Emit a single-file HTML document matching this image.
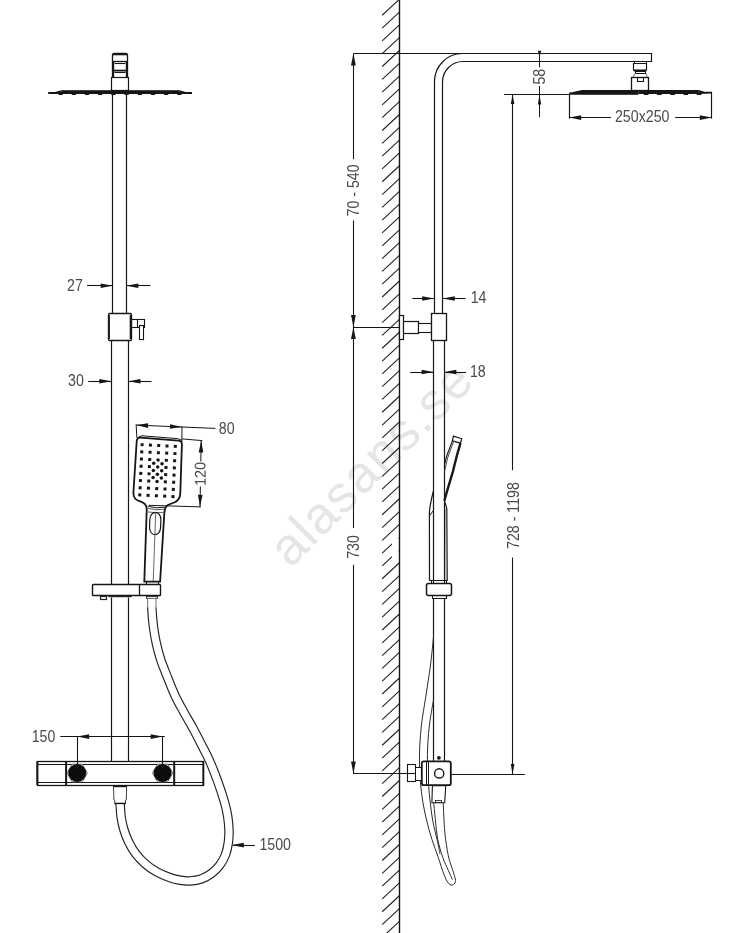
<!DOCTYPE html>
<html lang="sv">
<head>
<meta charset="utf-8">
<title>alasans.se – måttskiss takduschset</title>
<style>
html,body{margin:0;padding:0;background:#fff;}
body{width:746px;height:933px;overflow:hidden;}
svg{display:block;will-change:transform;}
svg text{font-family:"Liberation Sans",sans-serif;}
</style>
</head>
<body>
<svg width="746" height="933" viewBox="0 0 746 933">
<rect x="0" y="0" width="746" height="933" fill="#fff"/>
<g id="watermark">
<text transform="translate(290.5 569) rotate(-45)" font-size="52" fill="#e5e5e5" textLength="262" lengthAdjust="spacing">alasans.se</text>
</g>
<g id="front-view">
<path d="M112.5 77.2V55.3Q112.5 53.4 114.4 53.4H125.6Q127.5 53.4 127.5 55.3V77.2" fill="none" stroke="#161616" stroke-width="1.3"/>
<line x1="112.5" y1="54.5" x2="127.5" y2="54.5" stroke="#161616" stroke-width="1.6"/>
<line x1="112.5" y1="61.5" x2="127.5" y2="61.5" stroke="#161616" stroke-width="1.3"/>
<line x1="114.5" y1="63.5" x2="125.5" y2="63.5" stroke="#161616" stroke-width="1.1"/>
<line x1="112.5" y1="70.6" x2="127.5" y2="70.6" stroke="#161616" stroke-width="1.8"/>
<line x1="114.5" y1="72.5" x2="125.5" y2="72.5" stroke="#161616" stroke-width="1.1"/>
<line x1="113.5" y1="62" x2="113.5" y2="77" stroke="#161616" stroke-width="1.4"/>
<line x1="126.5" y1="62" x2="126.5" y2="77" stroke="#161616" stroke-width="1.4"/>
<rect x="111.5" y="77.5" width="17" height="13" fill="none" stroke="#161616" stroke-width="1.2"/>
<rect x="61.5" y="90.2" width="118" height="3.4" fill="#161616" stroke="none" stroke-width="0"/>
<line x1="48.2" y1="92.9" x2="192" y2="92.9" stroke="#161616" stroke-width="2"/>
<polygon points="61.5,90.2 54,92.2 54,93.6 61.5,93.6" fill="#161616"/>
<polygon points="179.5,90.2 186.5,92.2 186.5,93.6 179.5,93.6" fill="#161616"/>
<rect x="58.5" y="93.2" width="4.2" height="1.8" fill="#161616" stroke="none" stroke-width="0"/>
<rect x="71.7" y="93.2" width="4.2" height="1.8" fill="#161616" stroke="none" stroke-width="0"/>
<rect x="84.9" y="93.2" width="4.2" height="1.8" fill="#161616" stroke="none" stroke-width="0"/>
<rect x="98.1" y="93.2" width="4.2" height="1.8" fill="#161616" stroke="none" stroke-width="0"/>
<rect x="111.3" y="93.2" width="4.2" height="1.8" fill="#161616" stroke="none" stroke-width="0"/>
<rect x="124.5" y="93.2" width="4.2" height="1.8" fill="#161616" stroke="none" stroke-width="0"/>
<rect x="137.7" y="93.2" width="4.2" height="1.8" fill="#161616" stroke="none" stroke-width="0"/>
<rect x="150.9" y="93.2" width="4.2" height="1.8" fill="#161616" stroke="none" stroke-width="0"/>
<rect x="164.1" y="93.2" width="4.2" height="1.8" fill="#161616" stroke="none" stroke-width="0"/>
<rect x="177.3" y="93.2" width="4.2" height="1.8" fill="#161616" stroke="none" stroke-width="0"/>
<line x1="112.5" y1="94" x2="112.5" y2="313.7" stroke="#161616" stroke-width="1.2"/>
<line x1="126.5" y1="94" x2="126.5" y2="313.7" stroke="#161616" stroke-width="1.2"/>
<rect x="108.5" y="313.5" width="23" height="27" fill="#fff" stroke="#161616" stroke-width="1.3" rx="1.2"/>
<line x1="109" y1="315" x2="109" y2="339" stroke="#161616" stroke-width="1.8"/>
<line x1="130.5" y1="315" x2="130.5" y2="339" stroke="#161616" stroke-width="1.6"/>
<rect x="131.5" y="319.5" width="13" height="8" fill="none" stroke="#161616" stroke-width="1.1"/>
<line x1="137.5" y1="319.8" x2="137.5" y2="327" stroke="#161616" stroke-width="1.1"/>
<rect x="139.5" y="325.5" width="4" height="14" fill="#fff" stroke="#161616" stroke-width="1.1"/>
<line x1="111.5" y1="340" x2="111.5" y2="584" stroke="#161616" stroke-width="1.2"/>
<line x1="128.5" y1="340" x2="128.5" y2="584" stroke="#161616" stroke-width="1.2"/>
<line x1="111.5" y1="597.5" x2="111.5" y2="761.5" stroke="#161616" stroke-width="1.2"/>
<line x1="128.5" y1="597.5" x2="128.5" y2="761.5" stroke="#161616" stroke-width="1.2"/>
<line x1="87.2" y1="285.5" x2="112.7" y2="285.5" stroke="#161616" stroke-width="1.1"/>
<polygon points="112.7,285.7 100.7,283.4 100.7,288" fill="#161616"/>
<line x1="126.4" y1="285.5" x2="150.5" y2="285.5" stroke="#161616" stroke-width="1.1"/>
<polygon points="126.4,285.7 138.4,288 138.4,283.4" fill="#161616"/>
<text transform="translate(75 290.8) scale(0.91 1)" font-size="15.6" text-anchor="middle" fill="#4a4a4a">27</text>
<line x1="88.2" y1="381.5" x2="111.3" y2="381.5" stroke="#161616" stroke-width="1.1"/>
<polygon points="111.3,381.3 99.3,379 99.3,383.6" fill="#161616"/>
<line x1="128.5" y1="381.5" x2="151.5" y2="381.5" stroke="#161616" stroke-width="1.1"/>
<polygon points="128.5,381.3 140.5,383.6 140.5,379" fill="#161616"/>
<text transform="translate(76 386.4) scale(0.91 1)" font-size="15.6" text-anchor="middle" fill="#4a4a4a">30</text>
<path d="M140.6 437.7L178.4 440.7Q182 441 181.9 444.6L180.3 493C180.2 498.5 178.5 500.8 174.3 502.5C169 504.5 165.6 505 165 509.5L164.4 512L160.1 581.7H144.3L146.7 510.5C147 504.5 144.5 503 140.1 501.4C135.5 499.8 133.5 498 133.4 493L136.7 441.3Q137 437.4 140.6 437.7Z" fill="#fff" stroke="#161616" stroke-width="1.8"/>
<path d="M137.3 439.2Q138.5 435.6 142 435.8L177.5 438.6Q181.5 439 182 442.2" fill="none" stroke="#161616" stroke-width="1"/>
<path d="M147.5 506.2Q156 508.8 165 507.2" fill="none" stroke="#161616" stroke-width="1"/>
<path d="M147.2 508.2Q155.5 510.6 164.4 509.2" fill="none" stroke="#444" stroke-width="0.9"/>
<path d="M147.4 511.9Q155.5 513.2 163.8 512.4" fill="none" stroke="#555" stroke-width="0.9"/>
<rect x="140.6" y="443.2" width="3" height="3" fill="#161616" transform="rotate(2.9 142.1 444.7)"/>
<rect x="148.9" y="443.62" width="3" height="3" fill="#161616" transform="rotate(2.9 150.4 445.12)"/>
<rect x="157.2" y="444.04" width="3" height="3" fill="#161616" transform="rotate(2.9 158.7 445.54)"/>
<rect x="165.5" y="444.46" width="3" height="3" fill="#161616" transform="rotate(2.9 167 445.96)"/>
<rect x="173.8" y="444.88" width="3" height="3" fill="#161616" transform="rotate(2.9 175.3 446.38)"/>
<rect x="140.27" y="450.37" width="3" height="3" fill="#161616" transform="rotate(2.9 141.77 451.87)"/>
<rect x="148.57" y="450.79" width="3" height="3" fill="#161616" transform="rotate(2.9 150.07 452.29)"/>
<rect x="156.87" y="451.21" width="3" height="3" fill="#161616" transform="rotate(2.9 158.37 452.71)"/>
<rect x="165.17" y="451.63" width="3" height="3" fill="#161616" transform="rotate(2.9 166.67 453.13)"/>
<rect x="173.47" y="452.05" width="3" height="3" fill="#161616" transform="rotate(2.9 174.97 453.55)"/>
<rect x="139.94" y="457.54" width="3" height="3" fill="#161616" transform="rotate(2.9 141.44 459.04)"/>
<rect x="148.24" y="457.96" width="3" height="3" fill="#161616" transform="rotate(2.9 149.74 459.46)"/>
<rect x="164.84" y="458.8" width="3" height="3" fill="#161616" transform="rotate(2.9 166.34 460.3)"/>
<rect x="173.14" y="459.22" width="3" height="3" fill="#161616" transform="rotate(2.9 174.64 460.72)"/>
<rect x="139.61" y="464.71" width="3" height="3" fill="#161616" transform="rotate(2.9 141.11 466.21)"/>
<rect x="147.91" y="465.13" width="3" height="3" fill="#161616" transform="rotate(2.9 149.41 466.63)"/>
<rect x="164.51" y="465.97" width="3" height="3" fill="#161616" transform="rotate(2.9 166.01 467.47)"/>
<rect x="172.81" y="466.39" width="3" height="3" fill="#161616" transform="rotate(2.9 174.31 467.89)"/>
<rect x="139.28" y="471.88" width="3" height="3" fill="#161616" transform="rotate(2.9 140.78 473.38)"/>
<rect x="147.58" y="472.3" width="3" height="3" fill="#161616" transform="rotate(2.9 149.08 473.8)"/>
<rect x="164.18" y="473.14" width="3" height="3" fill="#161616" transform="rotate(2.9 165.68 474.64)"/>
<rect x="172.48" y="473.56" width="3" height="3" fill="#161616" transform="rotate(2.9 173.98 475.06)"/>
<rect x="138.95" y="479.05" width="3" height="3" fill="#161616" transform="rotate(2.9 140.45 480.55)"/>
<rect x="147.25" y="479.47" width="3" height="3" fill="#161616" transform="rotate(2.9 148.75 480.97)"/>
<rect x="163.85" y="480.31" width="3" height="3" fill="#161616" transform="rotate(2.9 165.35 481.81)"/>
<rect x="172.15" y="480.73" width="3" height="3" fill="#161616" transform="rotate(2.9 173.65 482.23)"/>
<rect x="138.62" y="486.22" width="3" height="3" fill="#161616" transform="rotate(2.9 140.12 487.72)"/>
<rect x="146.92" y="486.64" width="3" height="3" fill="#161616" transform="rotate(2.9 148.42 488.14)"/>
<rect x="155.22" y="487.06" width="3" height="3" fill="#161616" transform="rotate(2.9 156.72 488.56)"/>
<rect x="163.52" y="487.48" width="3" height="3" fill="#161616" transform="rotate(2.9 165.02 488.98)"/>
<rect x="171.82" y="487.9" width="3" height="3" fill="#161616" transform="rotate(2.9 173.32 489.4)"/>
<rect x="138.29" y="493.39" width="3" height="3" fill="#161616" transform="rotate(2.9 139.79 494.89)"/>
<rect x="146.59" y="493.81" width="3" height="3" fill="#161616" transform="rotate(2.9 148.09 495.31)"/>
<rect x="154.89" y="494.23" width="3" height="3" fill="#161616" transform="rotate(2.9 156.39 495.73)"/>
<rect x="163.19" y="494.65" width="3" height="3" fill="#161616" transform="rotate(2.9 164.69 496.15)"/>
<rect x="171.49" y="495.07" width="3" height="3" fill="#161616" transform="rotate(2.9 172.99 496.57)"/>
<circle cx="158.04" cy="459.88" r="1.75" fill="#161616"/>
<circle cx="153.72" cy="463.25" r="1.75" fill="#161616"/>
<circle cx="162.03" cy="463.68" r="1.75" fill="#161616"/>
<circle cx="157.71" cy="467.05" r="1.75" fill="#161616"/>
<circle cx="153.39" cy="470.42" r="1.75" fill="#161616"/>
<circle cx="161.69" cy="470.85" r="1.75" fill="#161616"/>
<circle cx="157.38" cy="474.22" r="1.75" fill="#161616"/>
<circle cx="153.06" cy="477.59" r="1.75" fill="#161616"/>
<circle cx="161.36" cy="478.01" r="1.75" fill="#161616"/>
<circle cx="157.05" cy="481.39" r="1.75" fill="#161616"/>
<rect x="149.7" y="512.4" width="11" height="22.3" rx="5.5" ry="7" fill="none" stroke="#161616" stroke-width="1.2" transform="rotate(2 155.4 523.6)"/>
<line x1="155.7" y1="512.6" x2="153.2" y2="581.7" stroke="#555" stroke-width="0.9"/>
<rect x="146.5" y="581.5" width="12" height="3" fill="none" stroke="#161616" stroke-width="1"/>
<rect x="92.5" y="584.5" width="68" height="11" fill="#fff" stroke="#161616" stroke-width="1.4" rx="0.8"/>
<line x1="139.5" y1="584" x2="139.5" y2="595.6" stroke="#161616" stroke-width="1.3"/>
<rect x="100.5" y="596.5" width="6" height="3" fill="none" stroke="#222" stroke-width="1.2"/>
<line x1="108.4" y1="596.5" x2="131.7" y2="596.5" stroke="#222" stroke-width="1.4"/>
<rect x="146.5" y="596.5" width="11" height="2" fill="none" stroke="#333" stroke-width="1.1"/>
<line x1="136.1" y1="424.4" x2="136.9" y2="438" stroke="#161616" stroke-width="1"/>
<line x1="182" y1="426.5" x2="181.8" y2="442" stroke="#161616" stroke-width="1"/>
<line x1="136.1" y1="425.1" x2="215.4" y2="428.4" stroke="#161616" stroke-width="1"/>
<polygon points="136.1,425.1 147.99,427.9 148.19,423.3" fill="#161616"/>
<polygon points="182,427 170.11,424.2 169.91,428.8" fill="#161616"/>
<text transform="translate(226.7 433.9) scale(0.91 1)" font-size="15.6" text-anchor="middle" fill="#4a4a4a">80</text>
<line x1="181.8" y1="438.9" x2="202.2" y2="440.6" stroke="#161616" stroke-width="1"/>
<line x1="148.8" y1="505.3" x2="200.8" y2="506.9" stroke="#161616" stroke-width="1"/>
<line x1="201.2" y1="440.4" x2="200" y2="507" stroke="#161616" stroke-width="1"/>
<polygon points="201.2,440.5 198.68,452.46 203.28,452.54" fill="#161616"/>
<polygon points="200,506.9 202.52,494.94 197.92,494.86" fill="#161616"/>
<rect x="194.5" y="461.5" width="12.5" height="25" fill="#fff"/>
<text transform="translate(205.6 473.8) rotate(-91) scale(0.91 1)" font-size="15.6" text-anchor="middle" fill="#4a4a4a">120</text>
<path d="M151.7 598.8C151.75 600.85 151.7 606.37 152 611.1C152.3 615.83 152.78 621.83 153.5 627.2C154.22 632.57 155.12 637.95 156.3 643.3C157.48 648.65 158.86 653.95 160.6 659.3C162.34 664.65 164.35 669.38 166.75 675.4C169.15 681.42 172.15 689.27 175 695.4C177.85 701.53 180.86 706.72 183.85 712.2C186.84 717.68 190.04 722.95 192.95 728.3C195.86 733.65 198.57 738.95 201.3 744.3C204.03 749.65 206.72 754.5 209.35 760.4C211.98 766.3 214.57 772.73 217.1 779.7C219.63 786.67 222.79 796.13 224.55 802.2C226.31 808.27 226.91 811.4 227.65 816.1C228.39 820.8 228.88 826 229 830.4C229.12 834.8 228.94 838.42 228.35 842.5C227.76 846.58 226.88 851.09 225.45 854.85C224.02 858.61 222.12 861.97 219.8 865.05C217.48 868.13 214.58 871.03 211.5 873.35C208.42 875.67 204.88 877.68 201.3 878.95C197.73 880.22 193.52 880.73 190.05 880.95C186.58 881.18 183.89 880.86 180.5 880.3C177.11 879.74 173.66 878.99 169.7 877.6C165.74 876.21 160.83 874.25 156.75 871.95C152.67 869.65 148.72 866.84 145.2 863.8C141.68 860.76 138.41 857.36 135.65 853.7C132.89 850.04 130.62 845.88 128.65 841.85C126.68 837.82 125.1 833.62 123.85 829.5C122.6 825.38 121.78 821.43 121.15 817.1C120.53 812.77 120.27 805.77 120.1 803.5" fill="none" stroke="#222" stroke-width="9.5"/>
<path d="M151.7 598.8C151.75 600.85 151.7 606.37 152 611.1C152.3 615.83 152.78 621.83 153.5 627.2C154.22 632.57 155.12 637.95 156.3 643.3C157.48 648.65 158.86 653.95 160.6 659.3C162.34 664.65 164.35 669.38 166.75 675.4C169.15 681.42 172.15 689.27 175 695.4C177.85 701.53 180.86 706.72 183.85 712.2C186.84 717.68 190.04 722.95 192.95 728.3C195.86 733.65 198.57 738.95 201.3 744.3C204.03 749.65 206.72 754.5 209.35 760.4C211.98 766.3 214.57 772.73 217.1 779.7C219.63 786.67 222.79 796.13 224.55 802.2C226.31 808.27 226.91 811.4 227.65 816.1C228.39 820.8 228.88 826 229 830.4C229.12 834.8 228.94 838.42 228.35 842.5C227.76 846.58 226.88 851.09 225.45 854.85C224.02 858.61 222.12 861.97 219.8 865.05C217.48 868.13 214.58 871.03 211.5 873.35C208.42 875.67 204.88 877.68 201.3 878.95C197.73 880.22 193.52 880.73 190.05 880.95C186.58 881.18 183.89 880.86 180.5 880.3C177.11 879.74 173.66 878.99 169.7 877.6C165.74 876.21 160.83 874.25 156.75 871.95C152.67 869.65 148.72 866.84 145.2 863.8C141.68 860.76 138.41 857.36 135.65 853.7C132.89 850.04 130.62 845.88 128.65 841.85C126.68 837.82 125.1 833.62 123.85 829.5C122.6 825.38 121.78 821.43 121.15 817.1C120.53 812.77 120.27 805.77 120.1 803.5" fill="none" stroke="#fff" stroke-width="7.2"/>
<rect x="146" y="598.5" width="12" height="9" fill="#fff" opacity="0.45"/>
<path d="M113.5 786.3H126.6L126.3 800H125.5V803.3H114.7V800H113.9Z" fill="#fff" stroke="#444" stroke-width="1"/>
<line x1="113.2" y1="786.3" x2="126.9" y2="786.3" stroke="#161616" stroke-width="1.8"/>
<line x1="114.4" y1="803.5" x2="125.8" y2="803.5" stroke="#161616" stroke-width="1.3"/>
<rect x="37.5" y="761.5" width="166" height="24" fill="#fff" stroke="#161616" stroke-width="1.3"/>
<line x1="37" y1="764.5" x2="203.6" y2="764.5" stroke="#161616" stroke-width="1"/>
<line x1="37" y1="782.5" x2="203.6" y2="782.5" stroke="#161616" stroke-width="1"/>
<line x1="37.3" y1="761.5" x2="37.3" y2="785" stroke="#161616" stroke-width="2"/>
<line x1="203.3" y1="761.5" x2="203.3" y2="785" stroke="#161616" stroke-width="1.8"/>
<line x1="66.1" y1="761.5" x2="66.1" y2="785" stroke="#161616" stroke-width="2"/>
<line x1="174.2" y1="761.5" x2="174.2" y2="785" stroke="#161616" stroke-width="2"/>
<polygon points="87.4,773 82.3,781.83 72.1,781.83 67,773 72.1,764.17 82.3,764.17" fill="#fff" stroke="#666" stroke-width="0.9"/>
<circle cx="77.2" cy="773" r="9" fill="#0c0c0c"/>
<polygon points="172.8,773 167.7,781.83 157.5,781.83 152.4,773 157.5,764.17 167.7,764.17" fill="#fff" stroke="#666" stroke-width="0.9"/>
<circle cx="162.6" cy="773" r="9" fill="#0c0c0c"/>
<line x1="60.2" y1="736.5" x2="164.8" y2="736.5" stroke="#161616" stroke-width="1.1"/>
<line x1="77.5" y1="736.6" x2="77.5" y2="764" stroke="#161616" stroke-width="1.1"/>
<line x1="162.5" y1="736.6" x2="162.5" y2="764" stroke="#161616" stroke-width="1.1"/>
<polygon points="77.2,736.6 89.2,738.9 89.2,734.3" fill="#161616"/>
<polygon points="162.7,736.6 150.7,734.3 150.7,738.9" fill="#161616"/>
<text transform="translate(43.5 741.9) scale(0.91 1)" font-size="15.6" text-anchor="middle" fill="#4a4a4a">150</text>
<line x1="233" y1="845.5" x2="254.8" y2="845.5" stroke="#161616" stroke-width="1.1"/>
<polygon points="231.8,845.1 243.8,847.4 243.8,842.8" fill="#161616"/>
<text transform="translate(275.2 850) scale(0.91 1)" font-size="15.6" text-anchor="middle" fill="#4a4a4a">1500</text>
</g>
<g id="side-view">
<line x1="382.2" y1="15.25" x2="399.4" y2="-0.75" stroke="#222" stroke-width="1.1"/>
<line x1="382.2" y1="28.06" x2="399.4" y2="12.06" stroke="#222" stroke-width="1.1"/>
<line x1="382.2" y1="40.87" x2="399.4" y2="24.87" stroke="#222" stroke-width="1.1"/>
<line x1="382.2" y1="53.67" x2="399.4" y2="37.67" stroke="#222" stroke-width="1.1"/>
<line x1="382.2" y1="66.48" x2="399.4" y2="50.48" stroke="#222" stroke-width="1.1"/>
<line x1="382.2" y1="79.29" x2="399.4" y2="63.29" stroke="#222" stroke-width="1.1"/>
<line x1="382.2" y1="92.09" x2="399.4" y2="76.09" stroke="#222" stroke-width="1.1"/>
<line x1="382.2" y1="104.9" x2="399.4" y2="88.9" stroke="#222" stroke-width="1.1"/>
<line x1="382.2" y1="117.71" x2="399.4" y2="101.71" stroke="#222" stroke-width="1.1"/>
<line x1="382.2" y1="130.52" x2="399.4" y2="114.52" stroke="#222" stroke-width="1.1"/>
<line x1="382.2" y1="143.32" x2="399.4" y2="127.32" stroke="#222" stroke-width="1.1"/>
<line x1="382.2" y1="156.13" x2="399.4" y2="140.13" stroke="#222" stroke-width="1.1"/>
<line x1="382.2" y1="168.94" x2="399.4" y2="152.94" stroke="#222" stroke-width="1.1"/>
<line x1="382.2" y1="181.74" x2="399.4" y2="165.74" stroke="#222" stroke-width="1.1"/>
<line x1="382.2" y1="194.55" x2="399.4" y2="178.55" stroke="#222" stroke-width="1.1"/>
<line x1="382.2" y1="207.36" x2="399.4" y2="191.36" stroke="#222" stroke-width="1.1"/>
<line x1="382.2" y1="220.17" x2="399.4" y2="204.17" stroke="#222" stroke-width="1.1"/>
<line x1="382.2" y1="232.97" x2="399.4" y2="216.97" stroke="#222" stroke-width="1.1"/>
<line x1="382.2" y1="245.78" x2="399.4" y2="229.78" stroke="#222" stroke-width="1.1"/>
<line x1="382.2" y1="258.59" x2="399.4" y2="242.59" stroke="#222" stroke-width="1.1"/>
<line x1="382.2" y1="271.39" x2="399.4" y2="255.39" stroke="#222" stroke-width="1.1"/>
<line x1="382.2" y1="284.2" x2="399.4" y2="268.2" stroke="#222" stroke-width="1.1"/>
<line x1="382.2" y1="297.01" x2="399.4" y2="281.01" stroke="#222" stroke-width="1.1"/>
<line x1="382.2" y1="309.81" x2="399.4" y2="293.81" stroke="#222" stroke-width="1.1"/>
<line x1="382.2" y1="322.62" x2="399.4" y2="306.62" stroke="#222" stroke-width="1.1"/>
<line x1="382.2" y1="335.43" x2="399.4" y2="319.43" stroke="#222" stroke-width="1.1"/>
<line x1="382.2" y1="348.24" x2="399.4" y2="332.24" stroke="#222" stroke-width="1.1"/>
<line x1="382.2" y1="361.04" x2="399.4" y2="345.04" stroke="#222" stroke-width="1.1"/>
<line x1="382.2" y1="373.85" x2="399.4" y2="357.85" stroke="#222" stroke-width="1.1"/>
<line x1="382.2" y1="386.66" x2="399.4" y2="370.66" stroke="#222" stroke-width="1.1"/>
<line x1="382.2" y1="399.46" x2="399.4" y2="383.46" stroke="#222" stroke-width="1.1"/>
<line x1="382.2" y1="412.27" x2="399.4" y2="396.27" stroke="#222" stroke-width="1.1"/>
<line x1="382.2" y1="425.08" x2="399.4" y2="409.08" stroke="#222" stroke-width="1.1"/>
<line x1="382.2" y1="437.88" x2="399.4" y2="421.88" stroke="#222" stroke-width="1.1"/>
<line x1="382.2" y1="450.69" x2="399.4" y2="434.69" stroke="#222" stroke-width="1.1"/>
<line x1="382.2" y1="463.5" x2="399.4" y2="447.5" stroke="#222" stroke-width="1.1"/>
<line x1="382.2" y1="476.31" x2="399.4" y2="460.31" stroke="#222" stroke-width="1.1"/>
<line x1="382.2" y1="489.11" x2="399.4" y2="473.11" stroke="#222" stroke-width="1.1"/>
<line x1="382.2" y1="501.92" x2="399.4" y2="485.92" stroke="#222" stroke-width="1.1"/>
<line x1="382.2" y1="514.73" x2="399.4" y2="498.73" stroke="#222" stroke-width="1.1"/>
<line x1="382.2" y1="527.53" x2="399.4" y2="511.53" stroke="#222" stroke-width="1.1"/>
<line x1="382.2" y1="540.34" x2="399.4" y2="524.34" stroke="#222" stroke-width="1.1"/>
<line x1="382.2" y1="553.15" x2="399.4" y2="537.15" stroke="#222" stroke-width="1.1"/>
<line x1="382.2" y1="565.95" x2="399.4" y2="549.95" stroke="#222" stroke-width="1.1"/>
<line x1="382.2" y1="578.76" x2="399.4" y2="562.76" stroke="#222" stroke-width="1.1"/>
<line x1="382.2" y1="591.57" x2="399.4" y2="575.57" stroke="#222" stroke-width="1.1"/>
<line x1="382.2" y1="604.38" x2="399.4" y2="588.38" stroke="#222" stroke-width="1.1"/>
<line x1="382.2" y1="617.18" x2="399.4" y2="601.18" stroke="#222" stroke-width="1.1"/>
<line x1="382.2" y1="629.99" x2="399.4" y2="613.99" stroke="#222" stroke-width="1.1"/>
<line x1="382.2" y1="642.8" x2="399.4" y2="626.8" stroke="#222" stroke-width="1.1"/>
<line x1="382.2" y1="655.6" x2="399.4" y2="639.6" stroke="#222" stroke-width="1.1"/>
<line x1="382.2" y1="668.41" x2="399.4" y2="652.41" stroke="#222" stroke-width="1.1"/>
<line x1="382.2" y1="681.22" x2="399.4" y2="665.22" stroke="#222" stroke-width="1.1"/>
<line x1="382.2" y1="694.02" x2="399.4" y2="678.02" stroke="#222" stroke-width="1.1"/>
<line x1="382.2" y1="706.83" x2="399.4" y2="690.83" stroke="#222" stroke-width="1.1"/>
<line x1="382.2" y1="719.64" x2="399.4" y2="703.64" stroke="#222" stroke-width="1.1"/>
<line x1="382.2" y1="732.44" x2="399.4" y2="716.44" stroke="#222" stroke-width="1.1"/>
<line x1="382.2" y1="745.25" x2="399.4" y2="729.25" stroke="#222" stroke-width="1.1"/>
<line x1="382.2" y1="758.06" x2="399.4" y2="742.06" stroke="#222" stroke-width="1.1"/>
<line x1="382.2" y1="770.87" x2="399.4" y2="754.87" stroke="#222" stroke-width="1.1"/>
<line x1="382.2" y1="783.67" x2="399.4" y2="767.67" stroke="#222" stroke-width="1.1"/>
<line x1="382.2" y1="796.48" x2="399.4" y2="780.48" stroke="#222" stroke-width="1.1"/>
<line x1="382.2" y1="809.29" x2="399.4" y2="793.29" stroke="#222" stroke-width="1.1"/>
<line x1="382.2" y1="822.09" x2="399.4" y2="806.09" stroke="#222" stroke-width="1.1"/>
<line x1="382.2" y1="834.9" x2="399.4" y2="818.9" stroke="#222" stroke-width="1.1"/>
<line x1="382.2" y1="847.71" x2="399.4" y2="831.71" stroke="#222" stroke-width="1.1"/>
<line x1="382.2" y1="860.51" x2="399.4" y2="844.51" stroke="#222" stroke-width="1.1"/>
<line x1="382.2" y1="873.32" x2="399.4" y2="857.32" stroke="#222" stroke-width="1.1"/>
<line x1="382.2" y1="886.13" x2="399.4" y2="870.13" stroke="#222" stroke-width="1.1"/>
<line x1="382.2" y1="898.94" x2="399.4" y2="882.94" stroke="#222" stroke-width="1.1"/>
<line x1="382.2" y1="911.74" x2="399.4" y2="895.74" stroke="#222" stroke-width="1.1"/>
<line x1="382.2" y1="924.55" x2="399.4" y2="908.55" stroke="#222" stroke-width="1.1"/>
<line x1="382.2" y1="937.36" x2="399.4" y2="921.36" stroke="#222" stroke-width="1.1"/>
<line x1="382.2" y1="950.16" x2="399.4" y2="934.16" stroke="#222" stroke-width="1.1"/>
<rect x="392" y="535.5" width="6.7" height="22" fill="#fff"/>
<line x1="399.5" y1="0" x2="399.5" y2="933" stroke="#161616" stroke-width="1.4"/>
<path d="M434.5 313.5V81.5A28 28 0 0 1 462.5 53.5H651.5V61.5H463A20.5 20.5 0 0 0 442.5 82V313.5" fill="none" stroke="#161616" stroke-width="1.2"/>
<line x1="353.4" y1="53.5" x2="463" y2="53.5" stroke="#161616" stroke-width="1.2"/>
<rect x="634.5" y="61.5" width="12" height="2" fill="none" stroke="#161616" stroke-width="1"/>
<path d="M633.5 63.5H646.5V69.4Q646.5 70.6 645.3 70.6H634.7Q633.5 70.6 633.5 69.4Z" fill="none" stroke="#161616" stroke-width="1.2"/>
<line x1="633.6" y1="70.4" x2="646.4" y2="70.4" stroke="#161616" stroke-width="1.9"/>
<rect x="635.5" y="71.5" width="10" height="2" fill="none" stroke="#161616" stroke-width="1"/>
<line x1="634.9" y1="73.6" x2="633.2" y2="77.2" stroke="#555" stroke-width="0.9"/>
<line x1="645.9" y1="73.6" x2="647.2" y2="77.2" stroke="#555" stroke-width="0.9"/>
<rect x="631.5" y="77.5" width="17" height="13" fill="none" stroke="#161616" stroke-width="1.3"/>
<rect x="637.5" y="77.5" width="6" height="4" fill="none" stroke="#161616" stroke-width="1.1"/>
<rect x="582" y="90" width="56.5" height="4.8" fill="#161616" stroke="none" stroke-width="0"/>
<rect x="638.4" y="90" width="60.4" height="4" fill="#161616" stroke="none" stroke-width="0"/>
<polygon points="582,90 572,92.3 569.2,92.5 569.2,94.8 582,94.8" fill="#161616"/>
<polygon points="698.8,90 704.5,91.7 711.9,91.7 711.9,93.4 698.8,94" fill="#161616"/>
<rect x="643.8" y="93.6" width="4.6" height="1.4" fill="#161616" stroke="none" stroke-width="0"/>
<rect x="657.05" y="93.6" width="4.6" height="1.4" fill="#161616" stroke="none" stroke-width="0"/>
<rect x="670.3" y="93.6" width="4.6" height="1.4" fill="#161616" stroke="none" stroke-width="0"/>
<rect x="683.55" y="93.6" width="4.6" height="1.4" fill="#161616" stroke="none" stroke-width="0"/>
<rect x="696.8" y="93.6" width="4.6" height="1.4" fill="#161616" stroke="none" stroke-width="0"/>
<line x1="569.5" y1="94" x2="569.5" y2="118.6" stroke="#161616" stroke-width="1.2"/>
<line x1="711.5" y1="92" x2="711.5" y2="118.6" stroke="#161616" stroke-width="1.2"/>
<line x1="569.2" y1="117.5" x2="611" y2="117.5" stroke="#161616" stroke-width="1.1"/>
<line x1="675.3" y1="117.5" x2="711.8" y2="117.5" stroke="#161616" stroke-width="1.1"/>
<polygon points="569.2,117.6 581.2,119.9 581.2,115.3" fill="#161616"/>
<polygon points="711.8,117.6 699.8,115.3 699.8,119.9" fill="#161616"/>
<text transform="translate(642.2 122.4) scale(0.91 1)" font-size="15.6" text-anchor="middle" fill="#4a4a4a">250x250</text>
<line x1="504" y1="94.5" x2="569.2" y2="94.5" stroke="#161616" stroke-width="1.2"/>
<line x1="539.5" y1="54" x2="539.5" y2="67.3" stroke="#161616" stroke-width="1"/>
<line x1="539.5" y1="85.8" x2="539.5" y2="117.2" stroke="#161616" stroke-width="1"/>
<polygon points="537.8,50.7 541.2,50.7 539.8,55.8 539.2,55.8" fill="#161616"/>
<polygon points="539.5,94.4 537.8,104.4 541.2,104.4" fill="#161616"/>
<text transform="translate(545 76.7) rotate(-90) scale(0.91 1)" font-size="15.6" text-anchor="middle" fill="#4a4a4a">58</text>
<line x1="512.5" y1="94.4" x2="512.5" y2="470.3" stroke="#161616" stroke-width="1.1"/>
<line x1="512.5" y1="557.5" x2="512.5" y2="774.4" stroke="#161616" stroke-width="1.1"/>
<polygon points="512.6,94.4 510.8,103.9 514.4,103.9" fill="#161616"/>
<polygon points="512.6,774.4 514.4,763.9 510.8,763.9" fill="#161616"/>
<text transform="translate(518.7 515.6) rotate(-90) scale(0.91 1)" font-size="15.6" text-anchor="middle" fill="#4a4a4a">728 - 1198</text>
<line x1="451" y1="774.5" x2="524.8" y2="774.5" stroke="#161616" stroke-width="1.2"/>
<line x1="353.5" y1="53.6" x2="353.5" y2="159.2" stroke="#161616" stroke-width="1.1"/>
<line x1="353.5" y1="220.5" x2="353.5" y2="528" stroke="#161616" stroke-width="1.1"/>
<line x1="353.5" y1="564.8" x2="353.5" y2="773.4" stroke="#161616" stroke-width="1.1"/>
<polygon points="353.4,53.6 351,65.6 355.8,65.6" fill="#161616"/>
<polygon points="353.4,327 355.8,315 351,315" fill="#161616"/>
<polygon points="353.4,327 351,339 355.8,339" fill="#161616"/>
<polygon points="353.4,773.4 355.8,761.4 351,761.4" fill="#161616"/>
<line x1="353.4" y1="327.5" x2="399.5" y2="327.5" stroke="#161616" stroke-width="1.2"/>
<line x1="353" y1="773.5" x2="407.7" y2="773.5" stroke="#161616" stroke-width="1.2"/>
<text transform="translate(359.2 190.4) rotate(-90) scale(0.91 1)" font-size="15.6" text-anchor="middle" fill="#4a4a4a">70 - 540</text>
<text transform="translate(359 547) rotate(-90) scale(0.91 1)" font-size="15.6" text-anchor="middle" fill="#4a4a4a">730</text>
<rect x="399.5" y="315.5" width="4" height="24" fill="#fff" stroke="#161616" stroke-width="1.2"/>
<rect x="403.5" y="321.5" width="15" height="12" fill="#fff" stroke="#161616" stroke-width="1.2"/>
<rect x="418.5" y="323.5" width="13" height="9" fill="#fff" stroke="#161616" stroke-width="1.1"/>
<rect x="431.5" y="313.5" width="15" height="27" fill="#fff" stroke="#161616" stroke-width="1.3"/>
<line x1="433.5" y1="340.4" x2="433.5" y2="583.2" stroke="#161616" stroke-width="1.2"/>
<line x1="444.5" y1="340.4" x2="444.5" y2="583.2" stroke="#161616" stroke-width="1.2"/>
<line x1="433.5" y1="598.5" x2="433.5" y2="761.3" stroke="#161616" stroke-width="1.2"/>
<line x1="444.5" y1="598.5" x2="444.5" y2="761.3" stroke="#161616" stroke-width="1.2"/>
<line x1="412.4" y1="298.5" x2="434.4" y2="298.5" stroke="#161616" stroke-width="1.1"/>
<line x1="442.5" y1="298.5" x2="465.5" y2="298.5" stroke="#161616" stroke-width="1.1"/>
<polygon points="434.2,298.5 422.2,296.2 422.2,300.8" fill="#161616"/>
<polygon points="442.8,298.5 454.8,300.8 454.8,296.2" fill="#161616"/>
<text transform="translate(478.6 303) scale(0.91 1)" font-size="15.6" text-anchor="middle" fill="#4a4a4a">14</text>
<line x1="410.2" y1="372.5" x2="433.6" y2="372.5" stroke="#161616" stroke-width="1.1"/>
<line x1="444.4" y1="372.5" x2="466" y2="372.5" stroke="#161616" stroke-width="1.1"/>
<polygon points="433.6,372 421.6,369.7 421.6,374.3" fill="#161616"/>
<polygon points="444.4,372 456.4,374.3 456.4,369.7" fill="#161616"/>
<text transform="translate(477.8 377.2) scale(0.91 1)" font-size="15.6" text-anchor="middle" fill="#4a4a4a">18</text>
<path d="M453.4 436.1L461.7 438.8L460.4 443.2L452.4 440.9Z" fill="#fff" stroke="#161616" stroke-width="1.2"/>
<path d="M452.4 440.9L446.5 456.5L444.4 465" fill="none" stroke="#161616" stroke-width="1.1"/>
<path d="M453.4 442L447.6 458L444.6 471" fill="none" stroke="#333" stroke-width="0.9"/>
<path d="M460.5 443.2L457.2 454.3L452.9 471.5L447.5 489.7L444.4 500.6" fill="none" stroke="#161616" stroke-width="2.4"/>
<path d="M444.4 500.6L446.8 508.5L447.2 580.5H444.4" fill="none" stroke="#161616" stroke-width="1.2"/>
<path d="M445.6 509L446 580" fill="none" stroke="#888" stroke-width="0.8"/>
<path d="M433.6 490.5Q430.2 503 429.4 512L429.5 580.5H433.6" fill="none" stroke="#161616" stroke-width="1.2"/>
<line x1="429.3" y1="516" x2="433.6" y2="510.2" stroke="#161616" stroke-width="1"/>
<rect x="431.5" y="580.5" width="15" height="3" fill="none" stroke="#161616" stroke-width="1"/>
<rect x="426.5" y="583.5" width="25" height="12" fill="#fff" stroke="#161616" stroke-width="1.5" rx="2"/>
<rect x="432.5" y="595.5" width="14" height="3" fill="none" stroke="#161616" stroke-width="1"/>
<path d="M433.4 637.7C432.92 642.25 431.78 655.08 430.5 665C429.22 674.92 427.17 687.55 425.7 697.2C424.23 706.85 422.68 714.87 421.7 722.9C420.72 730.93 420.17 738.22 419.8 745.4C419.43 752.58 419.37 759.47 419.5 766C419.63 772.53 420.02 778.45 420.6 784.6C421.18 790.75 421.97 796.82 423 802.9C424.03 808.98 425.32 815.03 426.8 821.1C428.28 827.17 429.98 833.23 431.9 839.3C433.82 845.37 436.33 851.73 438.3 857.5C440.27 863.27 442.08 869.72 443.7 873.9C445.32 878.08 446.63 880.72 448 882.6C449.37 884.48 450.75 885.13 451.9 885.2C453.05 885.27 454.33 884.03 454.9 883C455.47 881.97 455.65 881.12 455.3 879C454.95 876.88 453.97 874.18 452.8 870.3C451.63 866.42 449.63 862.08 448.3 855.7C446.97 849.32 445.65 840.8 444.8 832C443.95 823.2 443.47 807.75 443.2 802.9" fill="none" stroke="#2c2c2c" stroke-width="1"/>
<path d="M433.4 700.4C432.78 704.15 430.63 715.67 429.7 722.9C428.77 730.13 428.18 736.78 427.8 743.8C427.42 750.82 427.27 758.03 427.4 765C427.53 771.97 428.12 779.28 428.6 785.6C429.08 791.92 429.6 796.98 430.3 802.9C431 808.82 431.68 815.03 432.8 821.1C433.92 827.17 435.8 833.83 437 839.3C438.2 844.77 439.5 851.47 440 853.9" fill="none" stroke="#2c2c2c" stroke-width="1"/>
<path d="M433.7 802.9C434 805.92 434.83 814.93 435.5 821C436.17 827.07 436.48 833.22 437.7 839.3C438.92 845.38 441.03 852.33 442.8 857.5C444.57 862.67 446.7 866.63 448.3 870.3C449.9 873.97 451.72 877.97 452.4 879.5" fill="none" stroke="#2c2c2c" stroke-width="1"/>
<rect x="407.5" y="764.5" width="8" height="17" fill="#fff" stroke="#161616" stroke-width="1.1"/>
<line x1="407.7" y1="773.5" x2="415.5" y2="773.5" stroke="#161616" stroke-width="1"/>
<rect x="415.5" y="767.5" width="6" height="13" fill="#fff" stroke="#161616" stroke-width="1"/>
<rect x="421.8" y="761.4" width="29" height="23.8" fill="#fff" stroke="#161616" stroke-width="1.8" rx="2"/>
<line x1="426.5" y1="762" x2="426.5" y2="785" stroke="#161616" stroke-width="1"/>
<line x1="428.5" y1="762" x2="428.5" y2="785" stroke="#161616" stroke-width="1"/>
<circle cx="439.2" cy="773.4" r="4.6" fill="#fff" stroke="#161616" stroke-width="1.4"/>
<circle cx="438.9" cy="757.8" r="1.9" fill="#161616"/>
<path d="M432.4 785.6H445.8L444.7 802.8H431.9Z" fill="#fff" stroke="#161616" stroke-width="1.1"/>
<rect x="435.5" y="800.5" width="6" height="2" fill="none" stroke="#161616" stroke-width="0.8"/>
</g>
</svg>
</body>
</html>
